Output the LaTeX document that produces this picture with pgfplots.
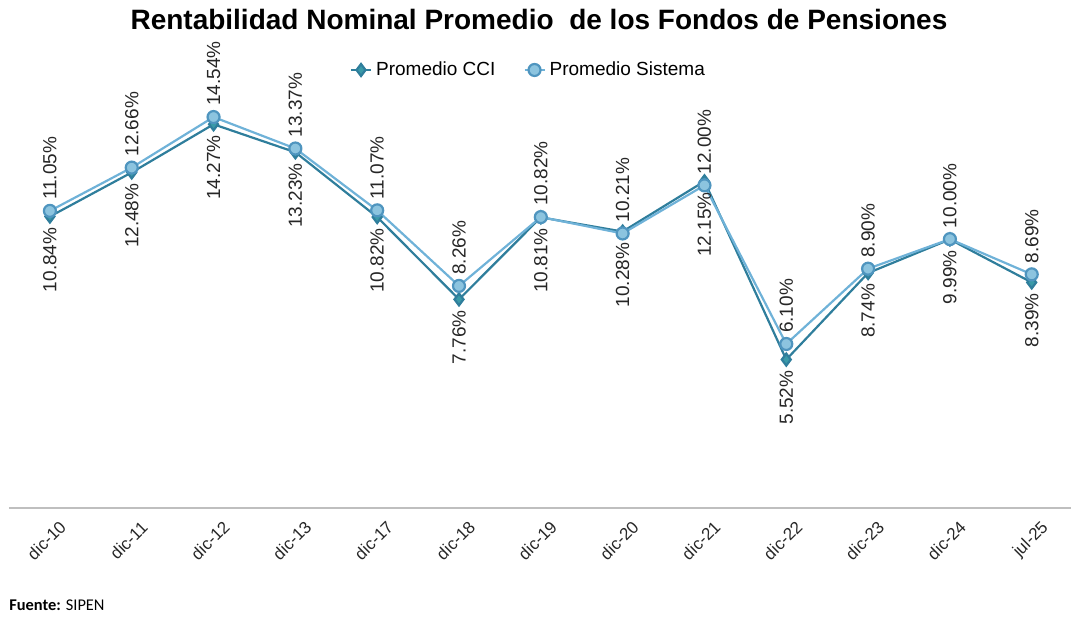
\documentclass[border=0pt]{standalone}
\usepackage{pgfplots}
\pgfplotsset{compat=1.18}
\usepackage{fontspec}
\setmainfont{Liberation Sans}
\newfontfamily\calfont{Carlito}
\definecolor{cci}{HTML}{2F7E9C}
\definecolor{ccifill}{HTML}{3A9AA8}
\definecolor{sis}{HTML}{6FB2D8}
\definecolor{sisfill}{HTML}{8CC4DF}
\definecolor{sisdraw}{HTML}{4F95BF}
\begin{document}
\begin{tikzpicture}
\begin{axis}[
  scale only axis,
  width=531pt, height=242pt,
  xmin=-0.5, xmax=12.48,
  ymin=0, ymax=18,
  axis x line=bottom,
  axis y line=none,
  x axis line style={draw=black!25, line width=0.8pt, -},
  xtick={0,...,12},
  xticklabels={dic-10,dic-11,dic-12,dic-13,dic-17,dic-18,dic-19,dic-20,dic-21,dic-22,dic-23,dic-24,jul-25},
  major tick length=0pt,
  xticklabel style={rotate=45, anchor=north east, font=\fontsize{8.5}{10}\selectfont, text=black!85, inner sep=0pt, yshift=-7pt, xshift=-1pt},
  clip=false,
  /pgf/number format/assume math mode=true,
  legend style={at={(0.49,0.905)}, anchor=center, draw=none, fill=none, legend columns=2,
    font=\fontsize{9.5}{11}\selectfont, /tikz/every even column/.append style={column sep=12pt},
    inner sep=0pt},
  legend image code/.code={\draw[#1] (0pt,0pt) -- (10pt,0pt); \draw[#1, mark repeat=1] plot coordinates {(5pt,0pt)};},
  nodes near coords={\pgfmathprintnumber[fixed,fixed zerofill,precision=2,assume math mode=true]{\pgfplotspointmeta}\%},
  every node near coord/.append style={font=\fontsize{9.5}{11}\selectfont, rotate=90, text=black!85},
]
\addplot[cci, line width=1.1pt, mark=diamond*, mark size=3pt, mark options={fill=ccifill, draw=cci},
  every node near coord/.append style={anchor=east, inner sep=5pt}]
  coordinates {(0,10.84) (1,12.48) (2,14.27) (3,13.23) (4,10.82) (5,7.76) (6,10.81) (7,10.28) (8,12.15) (9,5.52) (10,8.74) (11,9.99) (12,8.39)};
\addlegendentry{Promedio CCI}
\addplot[sis, line width=1.1pt, mark=*, mark size=3pt, mark options={fill=sisfill, draw=sisdraw},
  every node near coord/.append style={anchor=west, inner sep=5pt}]
  coordinates {(0,11.05) (1,12.66) (2,14.54) (3,13.37) (4,11.07) (5,8.26) (6,10.82) (7,10.21) (8,12.00) (9,6.10) (10,8.90) (11,10.00) (12,8.69)};
\addlegendentry{Promedio Sistema}
\node[font=\bfseries\fontsize{14}{16}\selectfont, anchor=center] at (rel axis cs:0.499,1.01) {Rentabilidad Nominal Promedio\ \ de los Fondos de Pensiones};
\node[font=\calfont\fontsize{8.2}{9}\selectfont, anchor=west, inner sep=0pt] at (rel axis cs:0.0,-0.2) {\textbf{Fuente:} SIPEN};
\end{axis}
\pgfresetboundingbox
\path (-4.5pt,-57.5pt) rectangle (531pt,254pt);
\end{tikzpicture}
\end{document}
